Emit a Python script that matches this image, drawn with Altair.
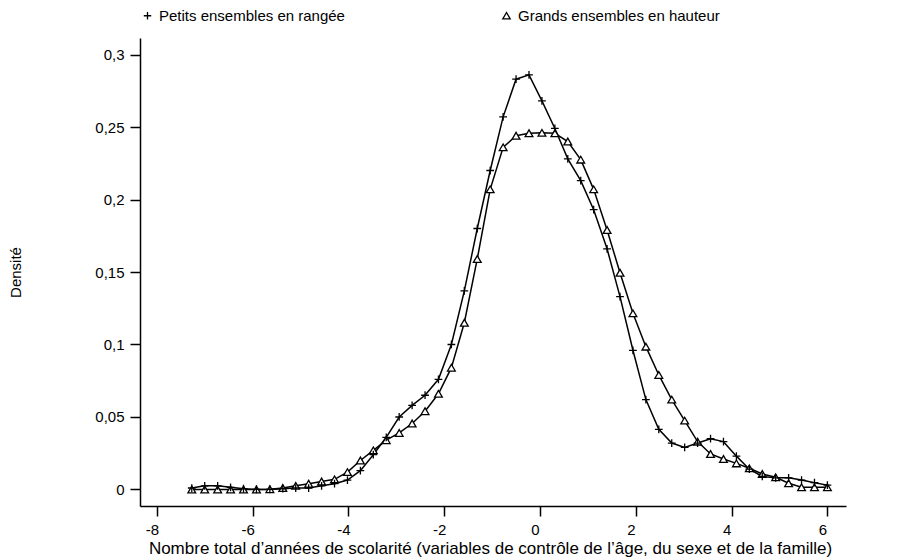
import altair as alt
import pandas as pd

# Evaluation grid (50 points) and estimated densities
x_vals = [-7.27, -7.00, -6.73, -6.46, -6.19, -5.92, -5.64, -5.37, -5.10, -4.83,
          -4.56, -4.29, -4.02, -3.75, -3.48, -3.21, -2.94, -2.67, -2.40, -2.12,
          -1.85, -1.58, -1.31, -1.04, -0.77, -0.50, -0.23, 0.04, 0.31, 0.58,
          0.85, 1.12, 1.40, 1.67, 1.94, 2.21, 2.48, 2.75, 3.02, 3.29,
          3.56, 3.83, 4.10, 4.37, 4.64, 4.92, 5.19, 5.46, 5.73, 6.00]

petits = [0.001, 0.0025, 0.0025, 0.0015, 0.0005, 0.0, 0.0, 0.0005, 0.001, 0.001,
          0.0025, 0.004, 0.0065, 0.013, 0.024, 0.036, 0.050, 0.058, 0.065, 0.076,
          0.100, 0.137, 0.180, 0.220, 0.257, 0.283, 0.286, 0.268, 0.249, 0.228,
          0.213, 0.193, 0.166, 0.133, 0.096, 0.062, 0.0415, 0.032, 0.029, 0.032,
          0.035, 0.033, 0.023, 0.014, 0.009, 0.008, 0.008, 0.0065, 0.0047, 0.003]

grands = [0.0, 0.0, 0.0, 0.0, 0.0, 0.0, 0.0002, 0.001, 0.0025, 0.004,
          0.0055, 0.007, 0.012, 0.020, 0.027, 0.034, 0.039, 0.0455, 0.054, 0.066,
          0.084, 0.115, 0.159, 0.207, 0.236, 0.244, 0.2457, 0.246, 0.2457, 0.240,
          0.2275, 0.207, 0.179, 0.1495, 0.1215, 0.0985, 0.079, 0.062, 0.0475, 0.033,
          0.0245, 0.021, 0.018, 0.0146, 0.0107, 0.0084, 0.0043, 0.0015, 0.0015, 0.0015]

series_names = ["Petits ensembles en rangée", "Grands ensembles en hauteur"]
x_ticks = [-8, -6, -4, -2, 0, 2, 4, 6]
y_ticks = [0, 0.05, 0.1, 0.15, 0.2, 0.25, 0.3]

rows = []
for xv, p, g in zip(x_vals, petits, grands):
    rows.append({"x": xv, "y": p, "serie": series_names[0]})
    rows.append({"x": xv, "y": g, "serie": series_names[1]})
df = pd.DataFrame(rows)

FONT = "Liberation Sans"
PLUS = "M-1,0L1,0M0,-1L0,1"

x_enc = alt.X(
    "x:Q",
    scale=alt.Scale(domain=[-8.351, 6.388], nice=False, zero=False),
    axis=alt.Axis(
        values=x_ticks,
        labelExpr="toString(datum.value)",
        title="Nombre total d’années de scolarité (variables de contrôle de l’âge, du sexe et de la famille)",
        titleY=47,
        titleX=350,
        titleBaseline="alphabetic",
        titleFontSize=17,
        labelOffset=-5,
        labelPadding=6,
        tickSize=10,
    ),
)
y_enc = alt.Y(
    "y:Q",
    scale=alt.Scale(domain=[-0.0114, 0.3114], nice=False, zero=False),
    axis=alt.Axis(
        values=y_ticks,
        labelExpr="replace(toString(datum.value), '.', ',')",
        title="Densité",
        titleX=-125,
        titleY=234,
        titleBaseline="middle",
        titleAngle=270,
        titleFontSize=15,
        labelPadding=6,
        tickSize=10,
    ),
)

shape_scale = alt.Scale(domain=series_names, range=[PLUS, "triangle-up"])

lines = alt.Chart(df).mark_line(color="black", strokeWidth=1.5).encode(
    x=x_enc, y=y_enc, detail="serie:N"
)

# white interiors of the markers (own shape scale, no legend)
fills = alt.Chart(df).mark_point(filled=True, color="white", size=60, opacity=1).encode(
    x=x_enc,
    y=y_enc,
    shape=alt.Shape("serie:N", scale=shape_scale, legend=None),
)

legend = alt.Legend(
    title=None,
    orient="none",
    legendX=0,
    legendY=-30,
    direction="horizontal",
    labelLimit=400,
    labelOffset=4,
    columnPadding=154,
    symbolSize=55,
    symbolStrokeWidth=1.3,
    symbolStrokeColor="black",
    padding=0,
    labelFont=FONT,
    labelFontSize=15,
    labelColor="black",
)

points = alt.Chart(df).mark_point(
    filled=False, color="black", strokeWidth=1.3, size=60, opacity=1
).encode(
    x=x_enc,
    y=y_enc,
    shape=alt.Shape("serie:N", scale=shape_scale, legend=legend),
)

chart = (
    alt.layer(lines, fills, points)
    .resolve_scale(shape="independent")
    .properties(
        width=706,
        height=468,
        autosize=alt.AutoSizeParams(type="none"),
        padding={"left": 132, "top": 30, "right": 64, "bottom": 51},
    )
    .configure_view(stroke=None)
    .configure_axis(
        grid=False,
        domainColor="black",
        domainWidth=1.5,
        tickColor="black",
        tickWidth=1.5,
        labelColor="black",
        titleColor="black",
        labelFont=FONT,
        titleFont=FONT,
        labelFontSize=15,
        titleFontWeight="normal",
    )
)

chart.save("out.html", embed_options={"renderer": "svg", "actions": False})
